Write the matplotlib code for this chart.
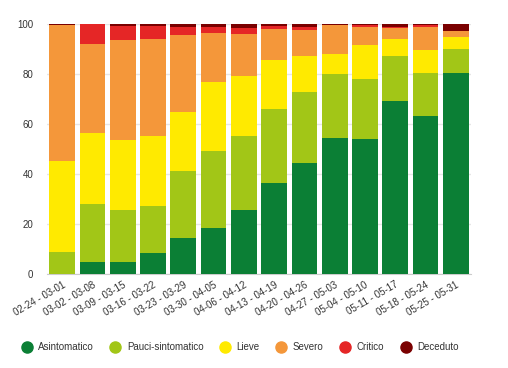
import numpy as np
import matplotlib
matplotlib.use('Agg')
import matplotlib.pyplot as plt
from matplotlib.lines import Line2D

weeks = ['02-24 - 03-01', '03-02 - 03-08', '03-09 - 03-15', '03-16 - 03-22',
         '03-23 - 03-29', '03-30 - 04-05', '04-06 - 04-12', '04-13 - 04-19',
         '04-20 - 04-26', '04-27 - 05-03', '05-04 - 05-10', '05-11 - 05-17',
         '05-18 - 05-24', '05-25 - 05-31']

asintomatico = [0.0, 4.9, 4.9, 8.5, 14.5, 18.4, 25.7, 36.3, 44.5, 54.3, 54.1, 69.2, 63.1, 80.3]
pauci = [8.8, 23.2, 20.7, 18.8, 26.6, 30.9, 29.4, 29.6, 28.4, 25.7, 24.0, 18.1, 17.3, 9.7]
lieve = [36.4, 28.4, 27.9, 27.9, 23.8, 27.6, 24.2, 19.8, 14.4, 8.1, 13.6, 6.6, 9.1, 4.9]
severo = [54.5, 35.4, 40.1, 38.7, 30.6, 19.4, 16.8, 12.2, 10.2, 11.4, 7.0, 4.4, 9.3, 2.2]
critico = [0.0, 7.9, 5.5, 5.2, 3.3, 2.6, 2.4, 1.3, 1.4, 0.2, 0.9, 0.6, 0.9, 0.2]
deceduto = [0.3, 0.2, 0.9, 0.9, 1.2, 1.1, 1.5, 0.8, 1.1, 0.3, 0.4, 1.1, 0.3, 2.7]

series = [
    ('Asintomatico', asintomatico, '#0b7f35'),
    ('Pauci-sintomatico', pauci, '#a2c617'),
    ('Lieve', lieve, '#ffea00'),
    ('Severo', severo, '#f4973a'),
    ('Critico', critico, '#e52626'),
    ('Deceduto', deceduto, '#7a0000'),
]


def main():
    plt.rcParams['font.family'] = ['Liberation Sans', 'DejaVu Sans']
    fig = plt.figure(figsize=(5.08, 3.68), dpi=100)
    ax = fig.add_axes([0.0925, 0.2554, 0.8345, 0.6794])

    x = np.arange(len(weeks))
    bottom = np.zeros(len(weeks))
    for name, vals, col in series:
        vals = np.array(vals)
        ax.bar(x, vals, bottom=bottom, width=0.85, color=col, zorder=3)
        bottom += vals

    ax.set_xlim(-0.5, len(weeks) - 0.5)
    ax.set_ylim(0, 100)
    ax.set_yticks([0, 20, 40, 60, 80, 100])
    ax.yaxis.grid(True, color='#e6e6e6', linewidth=1, zorder=0)
    for s in ['top', 'right', 'left']:
        ax.spines[s].set_visible(False)
    ax.spines['bottom'].set_color('#cccccc')
    ax.tick_params(axis='y', length=0, labelsize=7, labelcolor='#333333', pad=10)
    ax.tick_params(axis='x', length=0, labelsize=7, labelcolor='#333333', pad=4)
    ax.set_xticks(x)
    ax.set_xticklabels(weeks, rotation=30, ha='right', rotation_mode='anchor')

    handles = [Line2D([], [], marker='o', linestyle='', markersize=8,
                      markerfacecolor=col, markeredgecolor=col, label=name)
               for name, vals, col in series]
    fig.legend(handles=handles, loc='center', bbox_to_anchor=(0.472, 0.057),
               ncol=6, frameon=False, fontsize=7, handletextpad=0.6,
               handlelength=1.2, columnspacing=1.6, labelcolor='#333333')

    fig.savefig('out.png', dpi=100)


if __name__ == '__main__':
    main()
